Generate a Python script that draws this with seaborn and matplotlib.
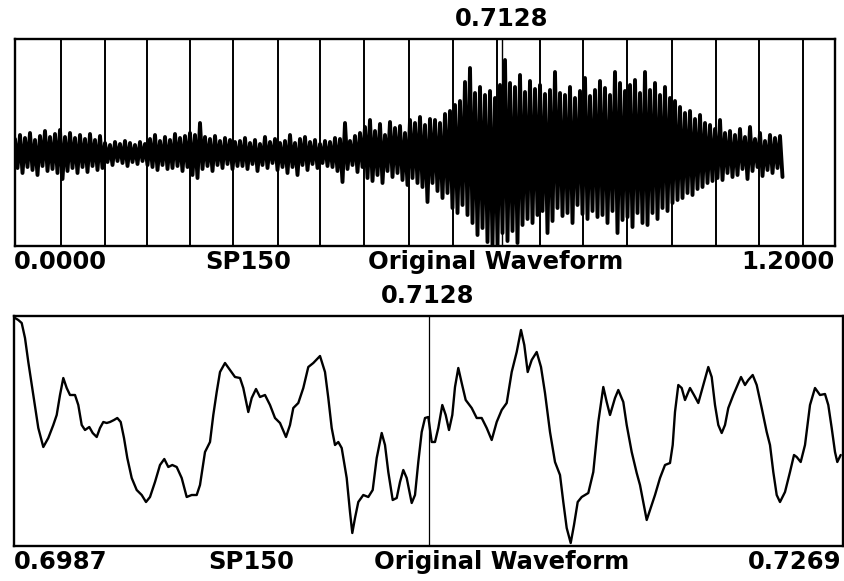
import numpy as np
import pandas as pd
import matplotlib
matplotlib.use("Agg")
import matplotlib.pyplot as plt
import seaborn as sns

# ---------------- data ----------------
# top panel: full utterance 0.0000 .. 1.2000 s, per-window max / min of the waveform
top_start, top_end = 0.0, 1.2
top_dt = 1.2 / 164.0          # analysis window length (s)
top_hi = [14, 18, 15, 20, 13, 17, 22, 16, 19,
          23, 16, 20, 15, 18, 14, 19, 13, 17,
          10, 8, 11, 9, 12, 10, 8, 11, 9,
          14, 18, 12, 16, 13, 19, 15, 17, 20,
          18, 30, 16, 14, 17, 12, 15, 13, 11,
          12, 15, 10, 13, 9, 16, 11, 14, 10,
          12, 18, 10, 14, 16, 11, 13, 9, 12,
          11, 15, 14, 30, 12, 17, 20, 26, 33,
          22, 29, 18, 31, 25, 27, 20, 33, 30,
          36, 28, 34, 33, 30, 39, 42, 48, 52,
          71, 85, 60, 66, 58, 62, 55, 68, 93,
          70, 66, 78, 61, 72, 64, 68, 59, 63,
          81, 60, 58, 66, 55, 62, 75, 57, 63,
          72, 65, 58, 81, 70, 62, 68, 73, 60,
          81, 63, 70, 58, 66, 55, 52, 46, 40,
          42, 34, 38, 30, 28, 24, 33, 20, 22,
          18, 24, 16, 26, 14, 20, 12, 18, 15, 17]
top_lo = [-15, -20, -14, -17, -22, -13, -18, -16, -20,
          -26, -18, -15, -20, -14, -19, -13, -17, -15,
          -9, -12, -8, -10, -13, -9, -11, -8, -12,
          -14, -17, -12, -16, -15, -13, -18, -14, -22,
          -25, -16, -13, -18, -12, -15, -11, -16, -13,
          -13, -16, -11, -18, -12, -15, -10, -17, -14,
          -20, -14, -22, -12, -17, -11, -15, -10, -13,
          -14, -18, -29, -16, -12, -19, -14, -25, -28,
          -22, -30, -18, -24, -20, -27, -32, -25, -30,
          -34, -49, -30, -38, -45, -40, -55, -60, -52,
          -62, -70, -82, -75, -89, -92, -92, -80, -88,
          -78, -90, -72, -66, -70, -62, -58, -80, -68,
          -55, -63, -60, -70, -52, -61, -66, -58, -64,
          -62, -70, -58, -80, -67, -64, -74, -60, -70,
          -72, -60, -66, -55, -58, -50, -47, -45, -40,
          -42, -36, -34, -30, -28, -25, -27, -20, -24,
          -22, -16, -26, -18, -14, -23, -17, -20, -15, -24]
top_marks = [0.0669, 0.1317, 0.1927, 0.2561, 0.3186, 0.3853, 0.4463, 0.5112,
             0.5766, 0.6405, 0.7049, 0.7683, 0.8317, 0.8952, 0.9610, 1.0259,
             1.0892, 1.1536]
cursor = 0.7128

# bottom panel: zoom 0.6987 .. 0.7269 s (sample index over 829 display samples)
bot_start, bot_end = 0.6987, 0.7269
bot_n = [1, 4.3, 7.7, 11, 14.3, 19.3, 24.3, 29.3, 34.3, 39.3, 42.7, 46, 49.3, 52.7,
         56, 61, 64.3, 67.7, 71, 75.3, 78.7, 82.7, 86, 89.3, 92.7, 96, 100, 103.3,
         106.7, 110, 113.3, 117.7, 122.7, 127.7, 132, 136, 141, 146, 150.3, 154.3,
         158.3, 162.7, 167.7, 172.7, 177.7, 182.7, 186, 191, 196, 199.3, 202.7, 206,
         211, 216, 221, 226, 229.3, 234.3, 237.7, 242, 246, 251, 256, 261, 266, 272,
         276, 279.3, 284.3, 289.3, 294.3, 299.3, 306, 311, 314.3, 317.7, 321, 324.3,
         327.7, 332.7, 336, 338.3, 341, 344.3, 349.3, 354.3, 358.7, 362.7, 367.7, 371,
         374.3, 378.7, 382.7, 386, 389.3, 392.7, 397.7, 401, 404.3, 407.7, 411, 414.3,
         417.7, 421, 424.3, 428.3, 431.7, 435, 438.3, 441, 444.3, 447.7, 451.7, 457.7,
         462.7, 467.7, 472.7, 477.7, 482.7, 487.7, 492.7, 497.7, 502.7, 507, 510.3,
         513.7, 517.7, 522.7, 527, 531, 536, 541, 546, 549.3, 552.7, 556.7, 560, 563.7,
         567.7, 574.3, 579.3, 584.3, 589.3, 592.7, 596, 601, 604.3, 609.3, 612.7, 617.7,
         622.7, 626, 629.3, 632.7, 636, 641, 646, 651, 656, 658.7, 661, 664.3, 667.7,
         671, 676, 680, 684.3, 689.3, 694.3, 697.7, 701, 704.3, 707.7, 711, 714.3,
         719.3, 722.7, 727, 731, 734.3, 738.7, 742.7, 747.7, 752.7, 756, 759.3, 762.7,
         766, 771, 776, 780, 782.7, 786.7, 791, 796, 801, 806, 811, 814.3, 817.7, 821,
         823.3, 826.7]
bot_amp = [113, 111, 108, 93, 69, 36, 3, -16, -7, 6, 16, 36, 53, 43,
           36, 36, 26, 6, 1, 4, -2, -6, 3, 9, 8, 9, 11, 13,
           9, -7, -27, -47, -59, -64, -71, -66, -51, -34, -28, -36,
           -34, -36, -47, -66, -64, -64, -54, -21, -11, 16, 39, 59,
           68, 61, 54, 53, 43, 19, 33, 42, 34, 36, 26, 13, 8, -6,
           6, 23, 28, 43, 64, 68, 75, 59, 33, 3, -14, -11,
           -17, -47, -81, -102, -87, -71, -64, -66, -59, -27, -2, -14,
           -41, -69, -67, -51, -39, -47, -72, -64, -31, -1, 13, 14,
           -11, -11, 3, 26, 16, 1, 16, 44, 63, 48, 31, 23,
           13, 13, 3, -9, 9, 21, 28, 59, 79, 101, 86,
           59, 71, 79, 64, 38, -1, -31, -44, -71, -97, -112, -94, -71,
           -66, -62, -41, 9, 44, 29, 16, 33, 41, 29, 6, -21,
           -42, -54, -71, -89, -79, -64, -47, -34, -32, -14, 19, 46, 43,
           31, 43, 36, 28, 46, 64, 54, 26, 6, -2, 6, 23,
           36, 44, 54, 46, 51, 56, 46, 23, -1, -14, -41, -64,
           -71, -61, -41, -24, -26, -31, -14, 26, 43, 36, 37, 26, 3, -21,
           -31, -24]
bot_samples = 829

# ---------------- styling ----------------
sns.set_style("white")
plt.rcParams["font.family"] = ["DejaVu Sans"]
W, H = 845, 581
fig = plt.figure(figsize=(W / 100, H / 100), dpi=100)

def axes_px(x0, y0, x1, y1):
    return fig.add_axes([x0 / W, 1 - y1 / H, (x1 - x0) / W, (y1 - y0) / H])

ax1 = axes_px(15, 39, 835, 246)
ax2 = axes_px(14, 316, 843, 546)

for ax in (ax1, ax2):
    ax.set_xticks([])
    ax.set_yticks([])
    for s in ax.spines.values():
        s.set_color("black")
        s.set_linewidth(1.7)

# ---- top panel ----
idx = np.arange(len(top_hi))
t_hi = top_start + idx * top_dt
t_lo = t_hi + top_dt / 2
top_df = pd.DataFrame({
    "t": np.column_stack([t_hi, t_lo]).ravel(),
    "a": np.column_stack([top_hi, top_lo]).ravel(),
})
ax1.vlines(top_marks, -93, 114, color="black", linewidth=1.4, zorder=1)
ax1.vlines([cursor], -93, 114, color="black", linewidth=1.0, zorder=1)
# oscillation trace (window max -> window min), thick so the body reads solid
sns.lineplot(data=top_df, x="t", y="a", ax=ax1, sort=False, estimator=None,
             color="black", linewidth=2.8, zorder=3)
ax1.set_xlim(top_start, top_end)
ax1.set_ylim(-93, 114)
ax1.set_xlabel("")
ax1.set_ylabel("")

# ---- bottom panel ----
step = (bot_end - bot_start) / bot_samples
bot_df = pd.DataFrame({"t": bot_start + np.array(bot_n) * step, "a": bot_amp})
sns.lineplot(data=bot_df, x="t", y="a", ax=ax2, sort=False, estimator=None,
             color="black", linewidth=1.7, zorder=3)
ax2.axvline(cursor, color="black", linewidth=0.9, zorder=2)
ax2.set_xlim(bot_start, bot_end)
ax2.set_ylim(-115, 115)
ax2.set_xlabel("")
ax2.set_ylabel("")

# ---- texts ----
fs = 17.5
def txt(x, y, s, ha):
    fig.text(x / W, 1 - y / H, s, ha=ha, va="center", fontsize=fs,
             fontweight="bold", color="black")

txt(502, 19, "0.7128", "center")
txt(14, 262, "0.0000", "left")
txt(248, 262, "SP150", "center")
txt(496, 262, "Original Waveform", "center")
txt(835, 262, "1.2000", "right")

txt(428, 296, "0.7128", "center")
txt(14, 562, "0.6987", "left")
txt(251, 562, "SP150", "center")
txt(502, 562, "Original Waveform", "center")
txt(841, 562, "0.7269", "right")

fig.savefig("out.png", dpi=100, facecolor="white")
